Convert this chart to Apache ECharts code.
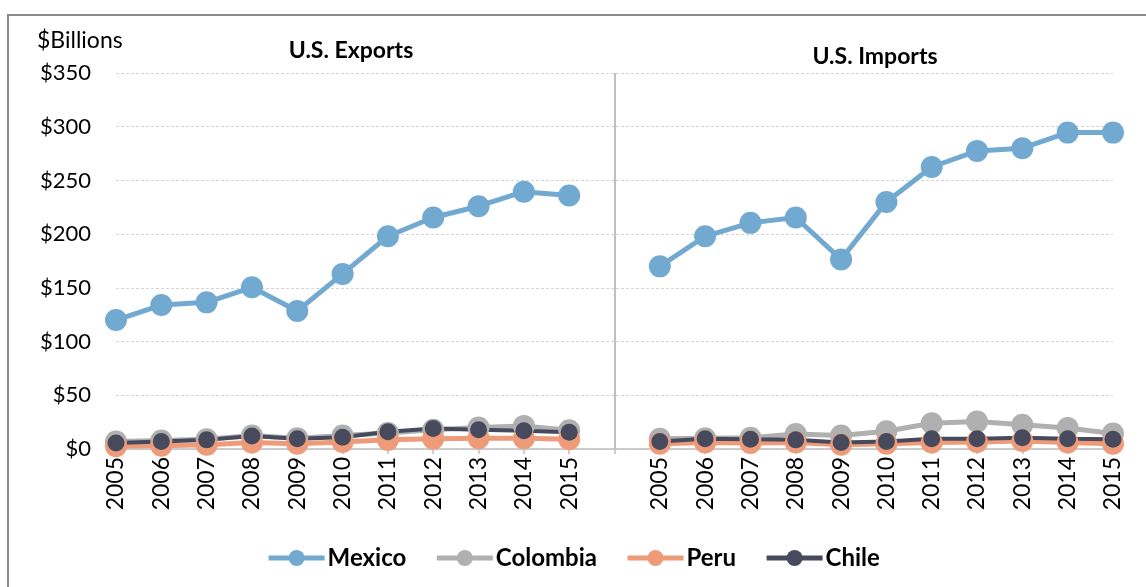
<!DOCTYPE html>
<html>
<head>
<meta charset="utf-8">
<script src="https://cdn.jsdelivr.net/npm/echarts@6/dist/echarts.min.js"></script>
<style>
html,body{margin:0;padding:0;background:#fff;}
#chart{width:1146px;height:587px;}
</style>
</head>
<body>
<div id="chart"></div>
<script>
const years = ['2005','2006','2007','2008','2009','2010','2011','2012','2013','2014','2015'];
const categories = years.concat([''], years);
const yTicks = [0, 50, 100, 150, 200, 250, 300, 350];

const mexicoExports   = [120, 134, 136.5, 150.5, 128.5, 163, 198, 215.5, 226, 239.5, 236];
const mexicoImports   = [170, 198, 210.5, 215.5, 176.5, 230, 262.5, 277.5, 280, 294.5, 294.5];
const colombiaExports = [7, 8, 9, 12.5, 10, 12.5, 15, 18, 20, 21.5, 17.5];
const colombiaImports = [9.5, 10, 10.5, 14, 12.5, 16.5, 24, 25.5, 22.5, 19.5, 14.5];
const peruExports     = [2.5, 3, 4, 6, 5, 6.5, 8.5, 9.5, 10, 10, 9];
const peruImports     = [5, 6, 5.5, 6, 4, 5, 6, 6.5, 7.5, 6, 5];
const chileExports    = [5.5, 7, 8.5, 12, 9.5, 11, 16, 19, 18, 17, 15.5];
const chileImports    = [7, 9.5, 9, 8.5, 6, 7, 9.5, 9.5, 10.5, 9.5, 9];

function join(a, b) { return a.concat([null], b); }

const FONT = 'Lato';
const chart = echarts.init(document.getElementById('chart'));

function lineSeries(name, data, color, size, width, extra) {
  return Object.assign({
    name: name,
    type: 'line',
    data: data,
    connectNulls: false,
    symbol: 'circle',
    symbolSize: size,
    itemStyle: { color: color },
    lineStyle: { color: color, width: width },
    emphasis: { disabled: true },
    animation: false
  }, extra || {});
}

chart.setOption({
  backgroundColor: '#ffffff',
  textStyle: { fontFamily: FONT },
  grid: { left: 116, right: 33, top: 73, bottom: 138, containLabel: false },
  legend: {
    bottom: 12,
    left: 'center',
    itemWidth: 56,
    itemHeight: 20,
    itemGap: 28,
    lineStyle: { width: 5 },
    textStyle: { fontFamily: FONT, fontSize: 24, fontWeight: 'bold', color: '#000', padding: [0, 0, 0, -2] },
    data: ['Mexico', 'Colombia', 'Peru', 'Chile']
  },
  xAxis: {
    type: 'category',
    data: categories,
    boundaryGap: false,
    axisLine: { lineStyle: { color: '#bfbfbf', width: 1.5 } },
    axisTick: { show: true, interval: 0, length: 5, lineStyle: { color: '#bfbfbf', width: 1.5 } },
    axisLabel: { interval: 0, rotate: 90, fontSize: 23, color: '#000', margin: 8, fontFamily: FONT },
    splitLine: { show: false }
  },
  yAxis: {
    type: 'value',
    min: yTicks[0],
    max: yTicks[yTicks.length - 1],
    interval: 50,
    axisLine: { show: false },
    axisTick: { show: false },
    axisLabel: { fontSize: 22, color: '#000', margin: 25, fontFamily: FONT,
      formatter: function (v) { return '$' + v; } },
    splitLine: { lineStyle: { color: '#d4d4d4', type: [3, 2], width: 1 } }
  },
  graphic: [
    { type: 'rect', shape: { x: 8, y: 15, width: 1300, height: 700 },
      style: { fill: null, stroke: '#8a8a8a', lineWidth: 2 }, silent: true },
    { type: 'text', x: 37, y: 29,
      style: { text: '$Billions', font: '23px ' + FONT, fill: '#000' } },
    { type: 'text', x: 351, y: 39,
      style: { text: 'U.S. Exports', font: 'bold 23px ' + FONT, fill: '#000', align: 'center' } },
    { type: 'text', x: 875, y: 45,
      style: { text: 'U.S. Imports', font: 'bold 23px ' + FONT, fill: '#000', align: 'center' } }
  ],
  series: [
    lineSeries('Mexico', join(mexicoExports, mexicoImports), '#72a9d1', 22, 5, {
      markLine: {
        silent: true, symbol: 'none', animation: false,
        label: { show: false },
        lineStyle: { color: '#bfbfbf', width: 2, type: 'solid' },
        data: [{ xAxis: 11 }]
      }
    }),
    lineSeries('Colombia', join(colombiaExports, colombiaImports), '#b0b0b0', 22, 5),
    lineSeries('Peru', join(peruExports, peruImports), '#ee9b79', 22, 5),
    lineSeries('Chile', join(chileExports, chileImports), '#474a5d', 17, 4)
  ]
});
</script>
</body>
</html>
